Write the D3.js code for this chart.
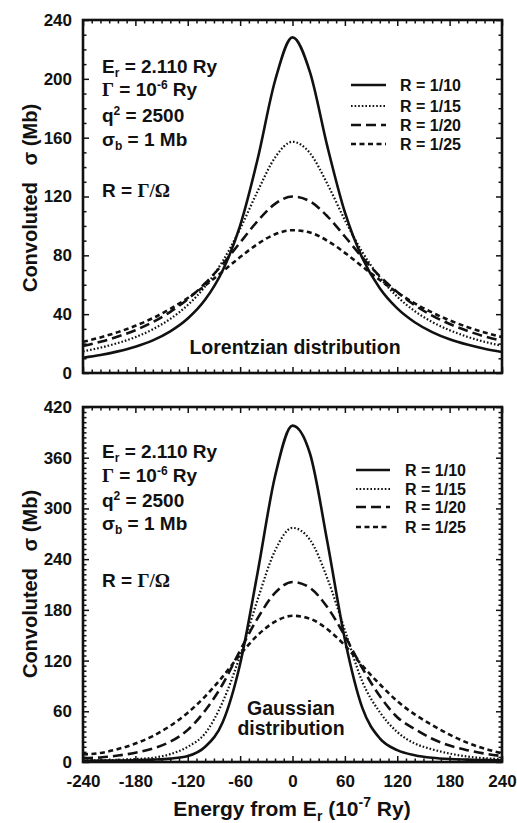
<!DOCTYPE html>
<html>
<head>
<meta charset="utf-8">
<script src="https://cdn.jsdelivr.net/npm/d3@7"></script>
<style>
  body { margin: 0; background: #fff; }
  svg { display: block; font-family: "Liberation Sans", Arial, Helvetica, sans-serif; font-weight: bold; fill: #111; }
  .tick text { font-size: 17px; font-weight: bold; font-family: "Liberation Sans", Arial, sans-serif; fill: #111; }
  .tick line { stroke: #111; stroke-width: 1.5; }
</style>
</head>
<body>
<svg id="chart" width="517" height="823"></svg>
<script>
// Energy from E_r, units of 1e-7 Ry
const energy = [-240, -220, -200, -180, -160, -140, -120, -100, -80, -60, -40, -20, 0,
                20, 40, 60, 80, 100, 120, 140, 160, 180, 200, 220, 240];
const seriesLabels = ['R = 1/10', 'R = 1/15', 'R = 1/20', 'R = 1/25'];

// Lorentzian distribution, convoluted sigma (Mb)
const lorentzR10 = [10.4, 12.2, 14.7, 17.9, 22.2, 28.3, 37.0, 49.9, 69.7, 100.2, 145.3, 198.7, 228.2,
                    204.6, 153.9, 109.3, 78.2, 57.6, 43.9, 34.5, 27.8, 22.9, 19.3, 16.5, 14.3];
const lorentzR15 = [14.7, 17.2, 20.4, 24.4, 29.7, 36.8, 46.2, 58.9, 76.0, 98.0, 123.5, 146.5, 157.2,
                    149.5, 128.5, 104.0, 82.2, 65.0, 51.9, 42.1, 34.7, 29.1, 24.7, 21.2, 18.5];
const lorentzR20 = [18.4, 21.2, 24.8, 29.1, 34.6, 41.6, 50.2, 61.0, 74.0, 88.7, 103.3, 115.0, 120.0,
                    116.7, 106.5, 92.8, 78.6, 65.8, 55.0, 46.1, 39.0, 33.3, 28.7, 24.9, 21.9];
const lorentzR25 = [21.2, 24.2, 27.8, 32.1, 37.3, 43.6, 51.0, 59.5, 69.0, 78.8, 87.7, 94.3, 97.1,
                    95.5, 89.9, 81.7, 72.4, 63.2, 54.8, 47.4, 41.1, 35.8, 31.3, 27.6, 24.4];

// Gaussian distribution, convoluted sigma (Mb)
const gaussR10 = [1.5, 1.6, 1.8, 2.2, 2.8, 4, 7, 18, 47, 116, 224, 338, 398,
                  365, 260, 145, 64, 28, 14, 8, 5, 3.5, 2.8, 2.3, 2];
const gaussR15 = [1.8, 2, 2.5, 3.5, 5, 9.3, 18, 34, 71, 126, 192, 250, 277,
                  263, 217, 156, 95, 59, 35.5, 22, 15, 10, 6.5, 4.5, 3.5];
const gaussR20 = [4.4, 5.4, 7.6, 11, 16, 24, 38, 61, 92, 132, 170, 200, 213,
                  206, 183, 149, 111, 78, 53, 39, 27.5, 19.4, 14, 10, 7];
const gaussR25 = [9, 10.7, 15.3, 21.8, 30.7, 42.8, 58.3, 77.7, 101, 127, 150, 166, 173,
                  169.5, 157, 138, 114, 92, 72, 56.4, 43.7, 32.4, 22.9, 15.8, 10.2];

// line look for R = 1/10, 1/15, 1/20, 1/25
const lineStyles = [
    {dash: null, width: 2.6},
    {dash: '1.6,2', width: 2.2},
    {dash: '10,5', width: 2.6},
    {dash: '5,3.5', width: 2.6}
];

const svg = d3.select('#chart');
const xLeft = 83, xRight = 502;

/**
* Write a line of text made of parts, each with optional shift, size and serif font
*/
function richText(parent, x, y, parts, size) {
    const t = parent.append('text').attr('x', x).attr('y', y).attr('font-size', size);
    let shift = 0;
    parts.forEach(p => {
        const s = p.shift || 0;
        t.append('tspan')
            .attr('dy', s - shift)
            .attr('font-size', p.size || size)
            .attr('font-family', p.serif ? '"Liberation Serif", "Times New Roman", serif' : null)
            .style('white-space', 'pre')
            .text(p.text);
        shift = s;
    });
    return t;
}

function drawPanel(cfg) {
    const g = svg.append('g');
    const x = d3.scaleLinear().domain([-240, 240]).range([xLeft, xRight]);
    const y = d3.scaleLinear().domain([0, cfg.yMax]).range([cfg.bottom, cfg.top]);

    const clipId = 'clip-' + cfg.name;
    g.append('clipPath').attr('id', clipId).append('rect')
        .attr('x', xLeft).attr('y', cfg.top).attr('width', xRight - xLeft).attr('height', cfg.bottom - cfg.top);

    const line = d3.line()
        .x((d, i) => x(energy[i]))
        .y(d => y(d))
        .curve(d3.curveMonotoneX);

    cfg.series.forEach((vals, i) => {
        g.append('path')
            .datum(vals)
            .attr('d', line)
            .attr('clip-path', `url(#${clipId})`)
            .attr('fill', 'none')
            .attr('stroke', '#111')
            .attr('stroke-width', lineStyles[i].width)
            .attr('stroke-dasharray', lineStyles[i].dash);
    });

    // Ticks point inwards on all four sides
    const xMajor = d3.range(-240, 241, 60);
    const xMinor = d3.range(-240, 241, 10).filter(v => v % 60 !== 0);
    const yMajor = d3.range(0, cfg.yMax + 1, cfg.yStep);
    const yMinor = d3.range(0, cfg.yMax + 1, cfg.yMinorStep).filter(v => v % cfg.yStep !== 0);

    const addAxis = (axisFn, scale, values, size, translate, labelled, pad) => {
        g.append('g')
            .attr('transform', `translate(${translate})`)
            .call(axisFn(scale).tickValues(values).tickSize(-size).tickPadding(pad || 3)
                .tickFormat(labelled ? d => String(d) : ''))
            .call(a => a.select('.domain').remove());
    };
    addAxis(d3.axisBottom, x, xMajor, 6, `0,${cfg.bottom}`, cfg.xLabels, 13);
    addAxis(d3.axisBottom, x, xMinor, 3.5, `0,${cfg.bottom}`, false);
    addAxis(d3.axisTop, x, xMajor, 6, `0,${cfg.top}`, false);
    addAxis(d3.axisTop, x, xMinor, 3.5, `0,${cfg.top}`, false);
    addAxis(d3.axisLeft, y, yMajor, 6, `${xLeft},0`, true, 11);
    addAxis(d3.axisLeft, y, yMinor, 3.5, `${xLeft},0`, false);
    addAxis(d3.axisRight, y, yMajor, 6, `${xRight},0`, false);
    addAxis(d3.axisRight, y, yMinor, 3.5, `${xRight},0`, false);

    g.append('rect')
        .attr('x', xLeft).attr('y', cfg.top)
        .attr('width', xRight - xLeft).attr('height', cfg.bottom - cfg.top)
        .attr('fill', 'none').attr('stroke', '#111').attr('stroke-width', 2.6);

    // Parameter notes
    const notes = [
        [{text: 'E'}, {text: 'r', shift: 4, size: 12}, {text: ' = 2.110 Ry'}],
        [{text: 'Γ', serif: true}, {text: ' = 10'}, {text: '-6', shift: -7, size: 12}, {text: ' Ry'}],
        [{text: 'q'}, {text: '2', shift: -7, size: 12}, {text: ' = 2500'}],
        [{text: 'σ'}, {text: 'b', shift: 4, size: 12}, {text: ' = 1 Mb'}],
        [{text: 'R = '}, {text: 'Γ/Ω', serif: true}]
    ];
    notes.forEach((parts, i) => richText(g, 102, cfg.noteY[i], parts, 19));

    // Legend
    seriesLabels.forEach((label, i) => {
        const ly = cfg.legendY[i];
        g.append('line')
            .attr('x1', cfg.legendX[0]).attr('x2', cfg.legendX[1])
            .attr('y1', ly).attr('y2', ly)
            .attr('stroke', '#111')
            .attr('stroke-width', lineStyles[i].width)
            .attr('stroke-dasharray', lineStyles[i].dash);
        g.append('text')
            .attr('x', cfg.legendX[2]).attr('y', ly + 6)
            .attr('font-size', 16)
            .text(label);
    });

    cfg.title.forEach(t => {
        g.append('text')
            .attr('x', t.x).attr('y', t.y)
            .attr('text-anchor', 'middle')
            .attr('font-size', 19.5)
            .text(t.text);
    });

    // Y axis title
    g.append('text')
        .attr('transform', `translate(37,${cfg.yTitleY}) rotate(-90)`)
        .attr('text-anchor', 'middle')
        .attr('font-size', 20)
        .text('Convoluted\u00a0\u00a0 σ (Mb)');
}

drawPanel({
    name: 'lorentz', top: 20, bottom: 373, yMax: 240, yStep: 40, yMinorStep: 10,
    series: [lorentzR10, lorentzR15, lorentzR20, lorentzR25],
    xLabels: false,
    noteY: [72.5, 96, 121.5, 146, 196.5],
    legendX: [351, 386, 400], legendY: [85, 106, 125, 144],
    title: [{text: 'Lorentzian distribution', x: 295, y: 354}],
    yTitleY: 198
});

drawPanel({
    name: 'gauss', top: 407, bottom: 762, yMax: 420, yStep: 60, yMinorStep: 6,
    series: [gaussR10, gaussR15, gaussR20, gaussR25],
    xLabels: true,
    noteY: [458, 482, 506.5, 530, 586.5],
    legendX: [356, 390, 405], legendY: [470, 489, 507, 527],
    title: [{text: 'Gaussian', x: 291, y: 715}, {text: 'distribution', x: 291, y: 735}],
    yTitleY: 584
});

// X axis title
richText(svg, 0, 816, [
    {text: 'Energy from E'}, {text: 'r', shift: 5, size: 14}, {text: ' (10'},
    {text: '-7', shift: -9, size: 14}, {text: ' Ry)'}
], 21).attr('x', 292).attr('text-anchor', 'middle');
</script>
</body>
</html>
